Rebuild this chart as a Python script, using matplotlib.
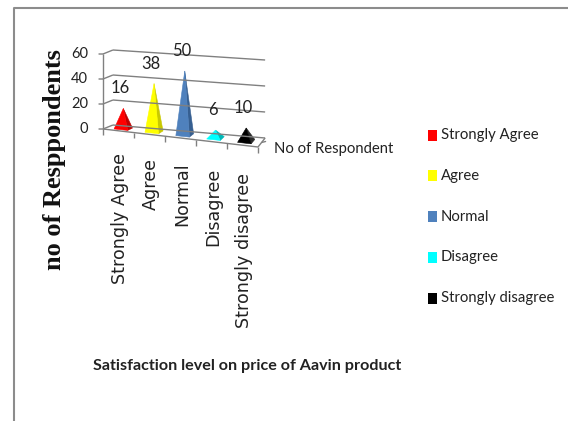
import matplotlib
matplotlib.use("Agg")
import matplotlib.pyplot as plt
from matplotlib.patches import Polygon, Rectangle
from matplotlib.lines import Line2D

# ---- data -------------------------------------------------------------
categories = ["Strongly Agree", "Agree", "Normal", "Disagree", "Strongly disagree"]
respondents = [16, 38, 50, 6, 10]
series_name = "No of Respondent"
y_ticks = [0, 20, 40, 60]
front_colors = ["#ff0000", "#ffff00", "#4f81bd", "#00ffff", "#000000"]
side_colors = ["#c00000", "#c9c900", "#365f91", "#00b8b8", "#2a2a2a"]
title = "Satisfaction level on price of Aavin product"
y_label = "no of Resppondents"

W, H = 568, 421
fig = plt.figure(figsize=(W / 100, H / 100), dpi=100)
fig.patch.set_facecolor("white")

# one axes over the whole canvas; x = category position, y = respondents
ax = fig.add_axes([0, 0, 1, 1])
PX_U, PX_V = 31.0, 1.25          # pixels per category / per respondent
ORIGIN_X, ORIGIN_Y = 103, 129    # front-left floor corner (pixels from top-left)
ax.set_xlim(-ORIGIN_X / PX_U, (W - ORIGIN_X) / PX_U)
ax.set_ylim((ORIGIN_Y - H) / PX_V, ORIGIN_Y / PX_V)
ax.axis("off")

NARROW = ["Liberation Sans Narrow", "Lato", "DejaVu Sans"]
GRID = "#808080"


def proj(u, v, d):
    """Oblique projection of (category pos, value, depth 0=front..1=back)."""
    x = u + d * (0.32 - 0.018 * u)
    y = v * (1 + 0.008 * u) - 2.88 * u + d * (3.2 + 0.8 * u)
    return x, y


def seg(p, q, **kw):
    ax.add_line(Line2D([p[0], q[0]], [p[1], q[1]], color=GRID, lw=1.0,
                       solid_capstyle="butt", **kw))


n = len(categories)

# back wall gridlines with the short side-wall segment on the left
for t in y_ticks:
    seg(proj(0, t, 0), proj(0, t, 1))
    seg(proj(0, t, 1), proj(n, t, 1))
    # tick mark and label on the value axis
    x0, y0 = proj(0, t, 0)
    ax.annotate("", xy=(x0, y0), xytext=(-4, 0), textcoords="offset pixels",
                arrowprops=dict(arrowstyle="-", color=GRID, lw=1.0,
                                shrinkA=0, shrinkB=0))
    ax.annotate(str(t), xy=(x0, y0), xytext=(-15, 0), textcoords="offset pixels",
                ha="right", va="center", family=NARROW, fontsize=10.5,
                color="#222222")

# value axis line
seg(proj(0, 0, 0), proj(0, max(y_ticks), 0))

# floor: front edge, right edge and category ticks
seg(proj(0, 0, 0), proj(n, 0, 0))
seg(proj(n, 0, 0), proj(n, 0, 1))
for i in range(n + 1):
    seg(proj(i, 0, 0), proj(i, -4.5, 0))
xs, ys = proj(n, 0, 0.5)
ax.annotate("", xy=(xs, ys), xytext=(4, 1), textcoords="offset pixels",
            arrowprops=dict(arrowstyle="-", color=GRID, lw=1.0, shrinkA=0, shrinkB=0))
ax.annotate(series_name, xy=(xs, ys), xytext=(12, -6), textcoords="offset pixels",
            ha="left", va="center", family=NARROW, fontsize=10.7, color="#222222")

# pyramids
HW, D0, D1 = 0.22, 0.25, 0.75
for i, (v, fc, sc) in enumerate(zip(respondents, front_colors, side_colors)):
    u = i + 0.5
    apex = proj(u, v, 0.5)
    right_face = [proj(u + HW, 0, D0), proj(u + HW, 0, D1), apex]
    front_face = [proj(u - HW, 0, D0), proj(u + HW, 0, D0), apex]
    ax.add_patch(Polygon(right_face, closed=True, facecolor=sc, edgecolor=sc, lw=0.4))
    ax.add_patch(Polygon(front_face, closed=True, facecolor=fc, edgecolor=fc, lw=0.4))
    ax.annotate(str(v), xy=apex, xytext=(-3, 20), textcoords="offset pixels",
                ha="center", va="center", family=NARROW, fontsize=12,
                color="#222222")
    # category label below the floor
    ax.annotate(categories[i], xy=proj(u, 0, 0), xytext=(1.5, -(22 + 1.4 * i)),
                textcoords="offset pixels", rotation=90, ha="center", va="top",
                family="DejaVu Sans", fontsize=12.6, color="#222222")


def fx(px):
    return px / W


def fy(py):
    return 1 - py / H


# axis titles
fig.text(fx(55), fy(160), y_label, rotation=90, ha="center", va="center",
         family="Liberation Serif", fontweight="bold", fontsize=19, color="#111111")
fig.text(fx(247), fy(366), title, ha="center", va="center", family=NARROW,
         fontweight="bold", fontsize=11.6, color="#222222")

# legend
row0, row_gap = 135, 40.8
for i, (name, c) in enumerate(zip(categories, front_colors)):
    yc = row0 + i * row_gap
    fig.add_artist(Rectangle((fx(428), fy(yc + 5.5)), 9 / W, 11 / H,
                             transform=fig.transFigure, facecolor=c,
                             edgecolor="none"))
    fig.text(fx(441), fy(yc), name, ha="left", va="center", family=NARROW,
             fontsize=10.7, color="#222222")

# chart outline (top and left edges)
fig.add_artist(Line2D([fx(14), fx(14), fx(W)], [fy(H), fy(7.5), fy(7.5)],
                      transform=fig.transFigure, color="#8c8c8c", lw=1.5))

fig.savefig("out.png", dpi=100, facecolor="white")
